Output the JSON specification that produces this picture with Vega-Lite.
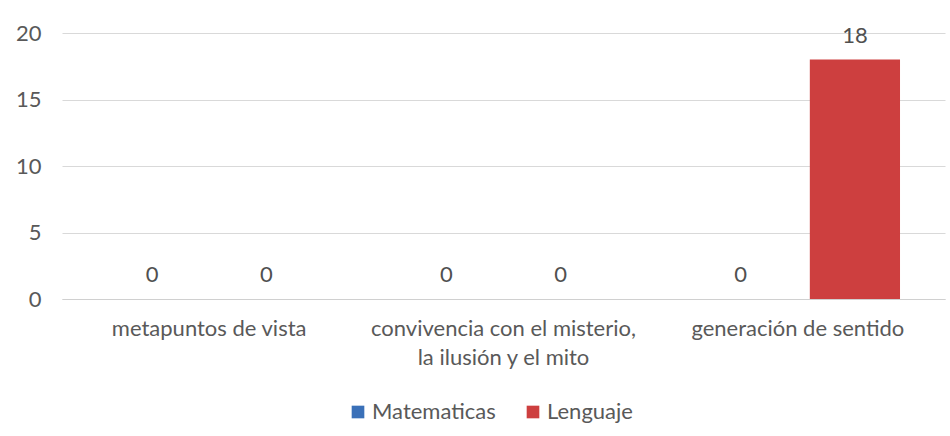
{
  "$schema": "https://vega.github.io/schema/vega-lite/v6.json",
  "width": 883,
  "height": 266,
  "autosize": {"type": "none"},
  "padding": {"left": 62, "top": 33, "right": 5, "bottom": 137},
  "background": "white",
  "config": {
    "font": "Lato",
    "view": {"stroke": null}
  },
  "data": {
    "values": [
      {"categoria": "metapuntos de vista", "serie": "Matematicas", "valor": 0},
      {"categoria": "metapuntos de vista", "serie": "Lenguaje", "valor": 0},
      {"categoria": "convivencia con el misterio, la ilusión y el mito", "serie": "Matematicas", "valor": 0},
      {"categoria": "convivencia con el misterio, la ilusión y el mito", "serie": "Lenguaje", "valor": 0},
      {"categoria": "generación de sentido", "serie": "Matematicas", "valor": 0},
      {"categoria": "generación de sentido", "serie": "Lenguaje", "valor": 18}
    ]
  },
  "encoding": {
    "x": {
      "field": "categoria",
      "type": "nominal",
      "sort": ["metapuntos de vista", "convivencia con el misterio, la ilusión y el mito", "generación de sentido"],
      "scale": {"paddingInner": 0, "paddingOuter": 0},
      "axis": {
        "title": null,
        "labelAngle": 0,
        "labelFont": "Lato",
        "labelFontSize": 22,
        "labelColor": "#595959",
        "labelPadding": 19,
        "labelLineHeight": 29,
        "labelLimit": 0,
        "ticks": false,
        "domainColor": "#d0d0d0",
        "domainWidth": 1.2,
        "labelExpr": "datum.label == 'convivencia con el misterio, la ilusión y el mito' ? ['convivencia con el misterio,', 'la ilusión y el mito'] : datum.label"
      }
    },
    "xOffset": {
      "field": "serie",
      "type": "nominal",
      "sort": ["Matematicas", "Lenguaje"],
      "scale": {"paddingInner": 0.21, "paddingOuter": 0.394}
    },
    "y": {
      "field": "valor",
      "type": "quantitative",
      "scale": {"domain": [0, 20]},
      "axis": {
        "title": null,
        "values": [0, 5, 10, 15, 20],
        "labelFontSize": 22,
        "labelColor": "#595959",
        "labelPadding": 21,
        "ticks": false,
        "domain": false,
        "gridColor": "#d9d9d9",
        "gridWidth": 1
      }
    }
  },
  "layer": [
    {
      "mark": {"type": "bar"},
      "encoding": {
        "color": {
          "field": "serie",
          "type": "nominal",
          "sort": ["Matematicas", "Lenguaje"],
          "scale": {"domain": ["Matematicas", "Lenguaje"], "range": ["#3a70b8", "#cd3f3f"]},
          "legend": {
            "title": null,
            "orient": "none",
            "legendX": 285,
            "legendY": 368,
            "direction": "horizontal",
            "symbolType": "square",
            "symbolSize": 160,
            "labelFontSize": 22,
            "labelColor": "#595959",
            "columnPadding": 26,
            "symbolStrokeWidth": 0,
            "labelOffset": 3
          }
        }
      }
    },
    {
      "mark": {"type": "text", "baseline": "alphabetic", "dy": -17, "fontSize": 22, "color": "#505050"},
      "encoding": {
        "text": {"field": "valor", "type": "quantitative"}
      }
    }
  ]
}
